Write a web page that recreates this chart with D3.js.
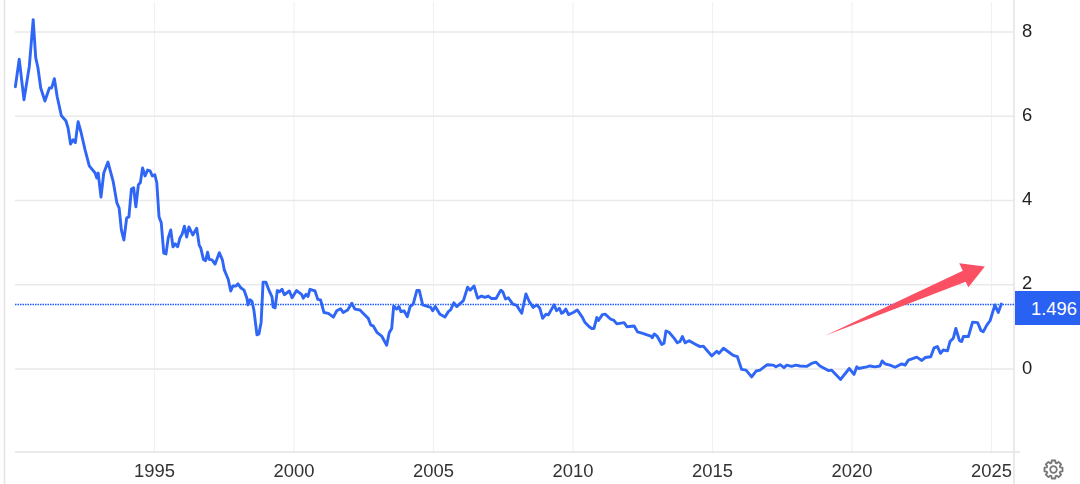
<!DOCTYPE html>
<html><head><meta charset="utf-8">
<script src="https://cdn.jsdelivr.net/npm/d3@7"></script>
<style>html,body{margin:0;padding:0;background:#fff}svg{display:block;filter:blur(.35px)}text{font-family:"Liberation Sans",Arial,sans-serif}</style>
</head><body><svg id="c" width="1080" height="484"></svg>
<script>
const years=[1990.03,1990.17,1990.34,1990.53,1990.67,1990.76,1990.84,1990.94,1991.09,1991.25,1991.33,1991.43,1991.53,1991.68,1991.84,1991.92,1992.01,1992.10,1992.18,1992.28,1992.38,1992.53,1992.68,1992.89,1992.95,1993.00,1993.10,1993.20,1993.35,1993.54,1993.67,1993.75,1993.83,1993.92,1994.02,1994.10,1994.19,1994.27,1994.35,1994.44,1994.51,1994.59,1994.68,1994.77,1994.86,1994.94,1995.03,1995.10,1995.18,1995.26,1995.35,1995.43,1995.51,1995.60,1995.68,1995.76,1995.85,1995.93,1996.01,1996.09,1996.17,1996.25,1996.39,1996.53,1996.62,1996.68,1996.77,1996.85,1996.92,1996.98,1997.08,1997.19,1997.34,1997.45,1997.52,1997.66,1997.75,1997.83,1997.94,1998.01,1998.12,1998.23,1998.33,1998.37,1998.44,1998.51,1998.58,1998.69,1998.76,1998.84,1998.91,1999.01,1999.12,1999.23,1999.27,1999.34,1999.42,1999.49,1999.59,1999.67,1999.85,1999.95,2000.11,2000.29,2000.35,2000.45,2000.52,2000.59,2000.77,2000.87,2000.97,2001.09,2001.25,2001.43,2001.55,2001.69,2001.78,2001.94,2002.09,2002.20,2002.38,2002.53,2002.68,2002.77,2002.86,2003.00,2003.16,2003.34,2003.43,2003.52,2003.59,2003.70,2003.78,2003.85,2003.96,2004.08,2004.18,2004.29,2004.42,2004.51,2004.63,2004.77,2004.92,2004.99,2005.08,2005.25,2005.43,2005.55,2005.63,2005.75,2005.85,2006.09,2006.24,2006.33,2006.47,2006.60,2006.74,2006.86,2006.98,2007.10,2007.26,2007.43,2007.50,2007.60,2007.70,2007.86,2008.00,2008.12,2008.18,2008.33,2008.45,2008.59,2008.72,2008.83,2008.93,2009.05,2009.13,2009.34,2009.43,2009.53,2009.61,2009.67,2009.76,2009.86,2010.03,2010.17,2010.35,2010.45,2010.60,2010.69,2010.77,2010.87,2010.93,2011.07,2011.17,2011.37,2011.47,2011.59,2011.85,2011.95,2012.21,2012.33,2012.49,2012.67,2012.81,2012.86,2012.93,2013.04,2013.20,2013.28,2013.35,2013.46,2013.64,2013.76,2013.85,2013.94,2014.04,2014.18,2014.45,2014.57,2014.69,2014.83,2014.99,2015.17,2015.25,2015.41,2015.62,2015.76,2015.91,2016.06,2016.22,2016.42,2016.58,2016.72,2016.98,2017.20,2017.29,2017.44,2017.58,2017.68,2017.85,2018.01,2018.15,2018.39,2018.57,2018.73,2018.87,2019.17,2019.29,2019.61,2019.92,2020.09,2020.19,2020.25,2020.55,2020.66,2020.84,2021.02,2021.10,2021.20,2021.38,2021.56,2021.80,2021.92,2022.04,2022.34,2022.52,2022.64,2022.84,2022.96,2023.08,2023.19,2023.29,2023.44,2023.53,2023.65,2023.74,2023.87,2023.95,2024.01,2024.19,2024.34,2024.52,2024.64,2024.72,2024.85,2024.97,2025.14,2025.26,2025.37];
const values=[6.69,7.34,6.38,7.17,8.28,7.38,7.14,6.66,6.35,6.66,6.66,6.88,6.45,6.00,5.88,5.71,5.33,5.43,5.36,5.86,5.62,5.19,4.81,4.64,4.52,4.64,4.07,4.64,4.90,4.43,3.93,3.81,3.29,3.05,3.57,3.60,4.26,4.29,3.84,4.36,4.41,4.76,4.57,4.71,4.69,4.57,4.60,4.41,3.60,3.46,2.74,2.72,3.10,3.29,2.89,2.96,2.89,3.10,3.19,3.38,3.12,3.36,3.17,3.33,2.93,2.85,2.59,2.56,2.76,2.59,2.58,2.48,2.75,2.58,2.34,2.12,1.84,1.96,1.96,2.01,1.91,1.86,1.67,1.51,1.63,1.60,1.39,0.80,0.82,1.10,2.05,2.05,1.86,1.70,1.46,1.44,1.85,1.82,1.88,1.75,1.84,1.68,1.85,1.76,1.67,1.76,1.71,1.88,1.84,1.64,1.63,1.33,1.31,1.22,1.37,1.42,1.33,1.39,1.55,1.41,1.39,1.29,1.19,1.03,1.01,0.85,0.77,0.55,0.85,0.95,1.48,1.41,1.47,1.35,1.37,1.23,1.47,1.53,1.85,1.85,1.51,1.48,1.45,1.37,1.47,1.29,1.22,1.35,1.39,1.56,1.47,1.61,1.93,1.86,1.96,1.67,1.72,1.69,1.72,1.66,1.66,1.86,1.82,1.65,1.68,1.53,1.50,1.37,1.31,1.77,1.59,1.45,1.51,1.43,1.19,1.29,1.27,1.51,1.37,1.43,1.31,1.33,1.41,1.28,1.33,1.39,1.22,1.09,0.99,0.95,0.95,1.21,1.14,1.28,1.29,1.17,1.15,1.06,1.09,0.99,1.01,0.87,0.84,0.80,0.77,0.73,0.82,0.76,0.57,0.60,0.89,0.86,0.72,0.61,0.64,0.76,0.61,0.66,0.56,0.52,0.53,0.42,0.30,0.41,0.36,0.48,0.38,0.31,0.28,-0.02,-0.04,-0.20,-0.06,-0.04,0.09,0.08,0.04,0.09,0.02,0.08,0.05,0.08,0.06,0.05,0.12,0.15,0.06,-0.05,-0.04,-0.26,0.00,-0.14,0.04,0.00,0.04,0.06,0.04,0.06,0.18,0.11,0.08,0.03,0.11,0.08,0.20,0.27,0.19,0.26,0.28,0.49,0.52,0.36,0.44,0.42,0.64,0.72,0.95,0.66,0.64,0.76,0.76,1.10,1.09,0.90,0.87,1.03,1.14,1.51,1.33,1.53];
const yTicks=[0,2,4,6,8];
const xTicks=[1995,2000,2005,2010,2015,2020,2025];
const lastValue=1.496;
const arrowYears=[2019.05,2023.99,2023.86,2024.78,2024.19,2024.09];
const arrowValues=[0.78,2.32,2.50,2.42,1.93,2.06];

const svg=d3.select("#c");
const x=d3.scaleLinear().domain([1995,2025]).range([154,991]);
const y=d3.scaleLinear().domain([0,8]).range([368.5,31.5]);
const L=15,R=1014,B=452;

// frame
svg.append("line").attr("x1",4.5).attr("x2",4.5).attr("y1",0).attr("y2",484).attr("stroke","#e3e3e3").attr("stroke-width",1.5);
svg.append("line").attr("x1",R).attr("x2",R).attr("y1",0).attr("y2",484).attr("stroke","#e3e3e3").attr("stroke-width",1.5);

// grid + axes
const gx=svg.append("g").attr("transform",`translate(0,${B})`)
  .call(d3.axisBottom(x).tickValues(xTicks).tickFormat(d3.format("d")).tickSize(-B+2).tickPadding(11.5));
gx.select(".domain").remove();
gx.selectAll("line").attr("stroke","#eff2f5").attr("stroke-width",1.2);
gx.selectAll("text").attr("font-size",18.4).attr("fill","#333");

const gy=svg.append("g").attr("transform",`translate(${R},0)`)
  .call(d3.axisRight(y).tickValues(yTicks).tickFormat(d3.format("d")).tickSize(L-R).tickPadding(0));
gy.select(".domain").remove();
gy.selectAll("line").attr("x1",0).attr("x2",L-R).attr("stroke","#e9e9e9").attr("stroke-width",1.5);
gy.selectAll("text").attr("x",8).attr("dy","0.25em").attr("font-size",18.4).attr("fill","#222").attr("text-anchor","start");

svg.append("line").attr("x1",L).attr("x2",1020).attr("y1",B).attr("y2",B).attr("stroke","#e3e3e3").attr("stroke-width",1.5);

// last-value dotted line
svg.append("line").attr("x1",L).attr("x2",R).attr("y1",Math.round(y(lastValue))-.5).attr("y2",Math.round(y(lastValue))-.5)
  .attr("stroke","#1f5cff").attr("stroke-width",1.3).attr("stroke-dasharray","1.5 1");

// series
const line=d3.line().x((d,i)=>x(years[i])).y(d=>y(d)).curve(d3.curveLinear);
svg.append("path").datum(values).attr("d",line).attr("fill","none").attr("stroke","#2f66f5")
  .attr("stroke-width",2.9).attr("stroke-linejoin","round").attr("stroke-linecap","round");

// price label
svg.append("rect").attr("x",1015).attr("y",291).attr("width",65).attr("height",34).attr("fill","#2962f2");
svg.append("text").attr("x",1054).attr("y",315).attr("text-anchor","middle").attr("font-size",18.4).attr("fill","#fff").text(d3.format(".3f")(lastValue));

// annotation arrow
svg.append("polygon").attr("points",arrowYears.map((a,i)=>[x(a),y(arrowValues[i])].join(",")).join(" ")).attr("fill","#fb4f64");

// settings gear
const gear=svg.append("g").attr("transform","translate(1053.5,469.5)");
const pts=[];for(let i=0;i<8;i++){const a=i*Math.PI/4;[[-.3,7],[-.2,9.2],[.2,9.2],[.3,7]].forEach(([o,r])=>pts.push([a+o,r]));}
gear.append("path").attr("d",d3.lineRadial().angle(d=>d[0]).radius(d=>d[1])(pts)+"Z").attr("fill","none").attr("stroke","#777").attr("stroke-width",1.8).attr("stroke-linejoin","round");
gear.append("circle").attr("r",3.3).attr("fill","none").attr("stroke","#777").attr("stroke-width",1.8);
</script></body></html>
